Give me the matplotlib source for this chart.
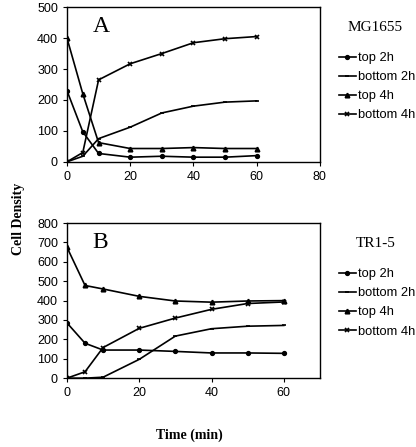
import numpy as np
import matplotlib.pyplot as plt

# --- data ---
t = [0, 5, 10, 20, 30, 40, 50, 60]
labels = ['top 2h', 'bottom 2h', 'top 4h', 'bottom 4h']

# panel A: MG1655
a_top2 = [230, 97, 27, 15, 18, 15, 15, 20]
a_bot2 = [0, 18, 75, 112, 158, 180, 193, 197]
a_top4 = [400, 220, 62, 43, 43, 46, 43, 43]
a_bot4 = [0, 30, 265, 317, 350, 385, 398, 405]

# panel B: TR1-5
b_top2 = [285, 180, 145, 145, 138, 130, 130, 128]
b_bot2 = [0, 0, 5, 97, 217, 255, 268, 272]
b_top4 = [675, 478, 460, 422, 398, 392, 398, 400]
b_bot4 = [0, 33, 158, 257, 310, 355, 385, 393]

markers = [('o', 2.6), ('_', 3), ('^', 3.2), ('x', 3.5)]

fig = plt.figure(figsize=(4.16, 4.47), dpi=100)
axA = fig.add_axes([0.161, 0.638, 0.608, 0.346])
axB = fig.add_axes([0.161, 0.154, 0.608, 0.347])

def draw(ax, series, letter, strain, xmax, ymax, ystep, xticks):
    for ys, (m, ms), lab in zip(series, markers, labels):
        ax.plot(t, ys, color='black', lw=1.2, marker=m, ms=ms,
                mew=1.2, label=lab)
    ax.set_xlim(0, xmax)
    ax.set_ylim(0, ymax)
    ax.set_xticks(xticks)
    ax.set_yticks(np.arange(0, ymax + 1, ystep))
    ax.tick_params(labelsize=9, length=3, width=0.8, direction='out')
    for lbl in ax.get_xticklabels() + ax.get_yticklabels():
        lbl.set_family('Liberation Sans')
    for s in ax.spines.values():
        s.set_linewidth(1.0)
    ax.text(0.10, 0.84, letter, transform=ax.transAxes, fontsize=17,
            family='Liberation Serif')
    ax.legend(loc='upper left', bbox_to_anchor=(1.075, 0.71),
              frameon=False, handlelength=1.3, handletextpad=0.2,
              labelspacing=0.55, borderaxespad=0, borderpad=0,
              prop={'family': 'Liberation Sans', 'size': 9.3})
    ax.text(1.22, 0.87, strain, transform=ax.transAxes, fontsize=11,
            family='Liberation Serif', ha='center', va='center')

draw(axA, [a_top2, a_bot2, a_top4, a_bot4], 'A', 'MG1655',
     80, 500, 100, [0, 20, 40, 60, 80])
draw(axB, [b_top2, b_bot2, b_top4, b_bot4], 'B', 'TR1-5',
     70, 800, 100, [0, 20, 40, 60])

fig.text(0.045, 0.51, 'Cell Density', rotation=90, ha='center', va='center',
         fontsize=10, fontweight='bold', family='Liberation Serif')
fig.text(0.455, 0.027, 'Time (min)', ha='center', va='center',
         fontsize=10, fontweight='bold', family='Liberation Serif')

fig.savefig('out.png', dpi=100)
